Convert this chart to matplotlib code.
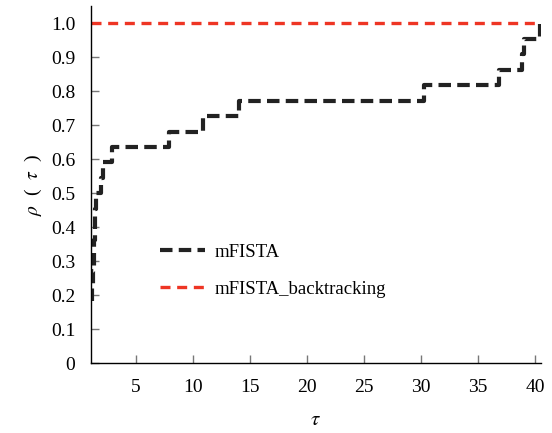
import matplotlib

matplotlib.use("Agg")
import matplotlib.pyplot as plt

# performance profile data (22 test problems)
tau_mfista = [1.12, 1.16, 1.22, 1.28, 1.33, 1.38, 1.43, 1.5, 1.95, 2.05, 2.9,
              7.9, 10.9, 14.0, 30.2, 36.8, 38.8, 39.0, 40.4, 40.5]
rho_mfista = [0.182, 0.227, 0.273, 0.318, 0.364, 0.409, 0.455, 0.5, 0.545, 0.591, 0.636,
              0.682, 0.727, 0.773, 0.818, 0.864, 0.909, 0.955, 1.0, 1.0]

tau_backtrack = [1.0, 40.5]
rho_backtrack = [1.0, 1.0]

x_ticks = [5, 10, 15, 20, 25, 30, 35, 40]
y_ticks = [0, 0.1, 0.2, 0.3, 0.4, 0.5, 0.6, 0.7, 0.8, 0.9, 1.0]
y_tick_labels = ["0", "0.1", "0.2", "0.3", "0.4", "0.5", "0.6", "0.7", "0.8", "0.9", "1.0"]

plt.rcParams["font.family"] = ["Liberation Serif", "DejaVu Serif"]
plt.rcParams["mathtext.fontset"] = "stix"

fig = plt.figure(figsize=(5.52, 4.33), dpi=100)
ax = fig.add_axes([0.164, 0.161, 0.816, 0.824])

ax.step(tau_mfista, rho_mfista, where="post", color="#222222", lw=3.0,
        linestyle=(0, (3, 1.5)), label="mFISTA")
ax.plot(tau_backtrack, rho_backtrack, color="#ee3524", lw=2.4,
        linestyle=(0, (3, 2)), label="mFISTA_backtracking")

ax.set_xlim(1, 40.5)
ax.set_ylim(0, 1.05)
ax.set_xticks(x_ticks)
ax.set_yticks(y_ticks)
ax.set_yticklabels(y_tick_labels)

ax.spines["top"].set_visible(False)
ax.spines["right"].set_visible(False)
for side in ["left", "bottom"]:
    ax.spines[side].set_linewidth(1.0)

ax.tick_params(axis="both", direction="in", length=6, width=1, color="#777777",
               labelsize=14)
ax.tick_params(axis="y", pad=11)
ax.tick_params(axis="x", pad=11)

ax.set_xlabel(r"$\tau$", fontsize=15, labelpad=11)
ax.set_ylabel(r"$\rho$  (  $\tau$  )", fontsize=14, labelpad=5)

ax.legend(loc="center left", bbox_to_anchor=(0.155, 0.259), frameon=False,
          fontsize=13.5, handlelength=2.4, labelspacing=1.05, borderpad=0,
          borderaxespad=0, handletextpad=0.5)

fig.savefig("out.png", dpi=100)
